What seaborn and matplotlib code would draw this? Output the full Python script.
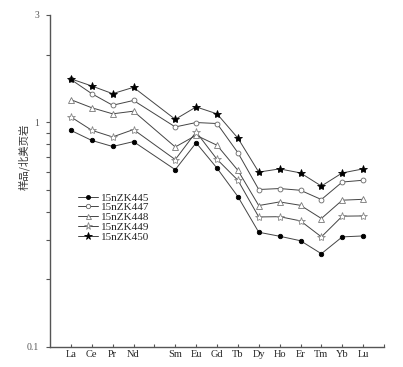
import numpy as np
import pandas as pd
import matplotlib
matplotlib.use("Agg")
import matplotlib.pyplot as plt
import matplotlib.ticker as mticker
import seaborn as sns

# ---- data ----
ree_order = ["La", "Ce", "Pr", "Nd", "Pm", "Sm", "Eu", "Gd", "Tb",
             "Dy", "Ho", "Er", "Tm", "Yb", "Lu"]
elements = ["La", "Ce", "Pr", "Nd", "Sm", "Eu", "Gd", "Tb",
            "Dy", "Ho", "Er", "Tm", "Yb", "Lu"]
s445 = [0.92, 0.83, 0.78, 0.82, 0.615, 0.81, 0.625, 0.467, 0.324, 0.311, 0.297, 0.260, 0.309, 0.312]
s447 = [1.55, 1.34, 1.19, 1.25, 0.953, 0.997, 0.987, 0.732, 0.502, 0.507, 0.498, 0.453, 0.542, 0.552]
s448 = [1.26, 1.16, 1.09, 1.12, 0.776, 0.875, 0.790, 0.611, 0.426, 0.442, 0.427, 0.373, 0.450, 0.454]
s449 = [1.056, 0.921, 0.860, 0.928, 0.682, 0.905, 0.684, 0.552, 0.379, 0.380, 0.364, 0.309, 0.382, 0.383]
s450 = [1.56, 1.45, 1.34, 1.43, 1.03, 1.17, 1.09, 0.85, 0.60, 0.62, 0.595, 0.52, 0.595, 0.62]
series_names = ["15nZK445", "15nZK447", "15nZK448", "15nZK449", "15nZK450"]
series_vals = [s445, s447, s448, s449, s450]
ylabel = "样品/北美页岩"

rows = []
for name, vals in zip(series_names, series_vals):
    for el, v in zip(elements, vals):
        rows.append({"sample": name, "pos": ree_order.index(el) + 1, "val": v})
df = pd.DataFrame(rows)

sns.set_theme(style="white")
plt.rcParams["font.family"] = ["Liberation Serif", "Noto Sans CJK SC", "DejaVu Sans"]

fig = plt.figure(figsize=(4.03, 3.67), dpi=100)
ax = fig.add_axes([50/403, 20/367, 334/403, 332/367])

styles = {
    "15nZK445": dict(marker="o", mfc="black", mec="black", ms=3.2),
    "15nZK447": dict(marker="o", mfc="white", mec="#666666", ms=3.5),
    "15nZK448": dict(marker="^", mfc="white", mec="#777777", ms=4),
    "15nZK449": dict(marker="*", mfc="white", mec="#888888", ms=6),
    "15nZK450": dict(marker="*", mfc="black", mec="black", ms=6),
}
for name in series_names:
    st = styles[name]
    sns.lineplot(data=df[df["sample"] == name], x="pos", y="val", ax=ax,
                 color="#444444", linewidth=0.7, marker=st["marker"],
                 markersize=st["ms"], markerfacecolor=st["mfc"],
                 markeredgecolor=st["mec"], markeredgewidth=0.6,
                 label=name, estimator=None, sort=False)

ax.set_yscale("log")
ax.set_ylim(0.1, 3)
ax.set_xlim(0, 16)
ax.set_xticks(range(1, 17))
ax.set_xticklabels([e if e != "Pm" else "" for e in ree_order] + [""], fontsize=7.5)
ax.yaxis.set_major_locator(mticker.FixedLocator([0.1, 1, 3]))
ax.yaxis.set_major_formatter(mticker.FixedFormatter(["0.1", "1", "3"]))
ax.yaxis.set_minor_locator(mticker.LogLocator(base=10, subs=np.arange(2, 10)))
ax.yaxis.set_minor_formatter(mticker.NullFormatter())
ax.tick_params(axis="y", which="both", direction="out", length=3, width=0.8,
               color="#555555", labelsize=7, labelcolor="#555555", left=True, pad=5)
ax.tick_params(axis="x", which="both", direction="in", length=2.5, width=0.8,
               color="#555555", labelsize=7.5, bottom=True, pad=2)
for sp in ["top", "right"]:
    ax.spines[sp].set_visible(False)
for sp in ["left", "bottom"]:
    ax.spines[sp].set_color("#555555")
    ax.spines[sp].set_linewidth(1.0)
ax.set_xlabel("")
ax.set_ylabel("")
fig.text(24/403, 1 - 157/367, ylabel, rotation=90, ha="center", va="center",
         fontsize=7.5, family=["Noto Sans CJK SC", "DejaVu Sans"], color="#333333")
ax.grid(False)

leg = ax.legend(loc="upper left", bbox_to_anchor=(0.07, 0.478), frameon=False,
                fontsize=8, handlelength=1.8, handletextpad=0.3,
                labelspacing=0.0, borderaxespad=0, markerscale=0.9)

fig.savefig("out.png", dpi=100, facecolor="white")
